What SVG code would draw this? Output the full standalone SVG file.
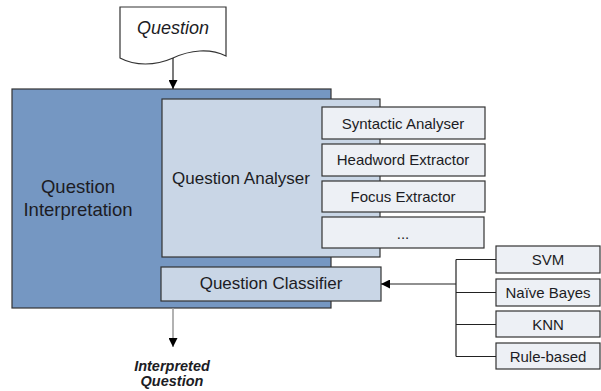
<svg xmlns="http://www.w3.org/2000/svg" width="601" height="391" viewBox="0 0 601 391">
  <style>
    .box { stroke: #333; stroke-width: 1.2; }
    .outer { fill: #7597C2; }
    .mid { fill: #C9D6E6; }
    .light { fill: #EDF0F5; }
    .t { font-family: "Liberation Sans", Arial, sans-serif; fill: #1c1c24; text-anchor: middle; }
    .link { stroke: #222; stroke-width: 1.2; fill: none; }
  </style>
  <defs>
    <marker id="arrow" viewBox="0 0 10 10" refX="10" refY="5" markerWidth="9" markerHeight="9" markerUnits="userSpaceOnUse" orient="auto">
      <path d="M0,0 L10,5 L0,10 Z" fill="#000"/>
    </marker>
  </defs>

  <!-- input document -->
  <g id="question">
    <path d="M120,7 H226 V56 C210,48 190,50 173,58 C155,66 135,66 120,58 Z" fill="#fff" stroke="#333" stroke-width="1.2"/>
    <text class="t" x="173" y="34" font-size="18" font-style="italic">Question</text>
  </g>

  <g id="interpretation">
    <rect class="box outer" x="12" y="89" width="319" height="219"/>
    <text class="t" x="78" y="193" font-size="18.5">Question</text>
    <text class="t" x="78" y="216" font-size="18.5">Interpretation</text>
  </g>

  <g id="analyser">
    <rect class="box mid" x="162" y="99" width="218" height="158"/>
    <text class="t" x="241" y="184" font-size="17">Question Analyser</text>
  </g>

  <g id="syntactic">
    <rect class="box light" x="322" y="107" width="163" height="32"/>
    <text class="t" x="403" y="128.5" font-size="15">Syntactic Analyser</text>
  </g>
  <g id="headword">
    <rect class="box light" x="322" y="144" width="163" height="32"/>
    <text class="t" x="403" y="165" font-size="15">Headword Extractor</text>
  </g>
  <g id="focus">
    <rect class="box light" x="322" y="181" width="163" height="31"/>
    <text class="t" x="403" y="201.5" font-size="15">Focus Extractor</text>
  </g>
  <g id="more">
    <rect class="box light" x="322" y="217" width="162" height="31"/>
    <text class="t" x="403" y="239" font-size="15">...</text>
  </g>

  <g id="classifier">
    <rect class="box mid" x="161" y="267" width="220" height="34"/>
    <text class="t" x="271" y="289" font-size="17">Question Classifier</text>
  </g>

  <g id="svm">
    <rect class="box light" x="496" y="246" width="104" height="27"/>
    <text class="t" x="548" y="265" font-size="15">SVM</text>
  </g>
  <g id="naive-bayes">
    <rect class="box light" x="496" y="279" width="104" height="27"/>
    <text class="t" x="548" y="298" font-size="15">Naïve Bayes</text>
  </g>
  <g id="knn">
    <rect class="box light" x="496" y="311" width="104" height="26"/>
    <text class="t" x="548" y="330" font-size="15">KNN</text>
  </g>
  <g id="rule-based">
    <rect class="box light" x="496" y="343" width="104" height="26"/>
    <text class="t" x="548" y="362" font-size="15">Rule-based</text>
  </g>

  <g id="output">
    <text class="t" x="172" y="371" font-size="14.5" font-weight="bold" font-style="italic">Interpreted</text>
    <text class="t" x="172" y="386" font-size="14.5" font-weight="bold" font-style="italic">Question</text>
  </g>

  <g id="connectors">
    <line class="link" x1="173" y1="58" x2="173" y2="89" marker-end="url(#arrow)"/>
    <line x1="173" y1="308" x2="173" y2="347" stroke="#999" stroke-width="1.5" marker-end="url(#arrow)"/>
    <line class="link" x1="456" y1="259.5" x2="456" y2="356.5"/>
    <line class="link" x1="456" y1="259.5" x2="496" y2="259.5"/>
    <line class="link" x1="456" y1="292.5" x2="496" y2="292.5"/>
    <line class="link" x1="456" y1="324.5" x2="496" y2="324.5"/>
    <line class="link" x1="456" y1="356.5" x2="496" y2="356.5"/>
    <line class="link" x1="456" y1="284" x2="381" y2="284" marker-end="url(#arrow)"/>
  </g>
</svg>
